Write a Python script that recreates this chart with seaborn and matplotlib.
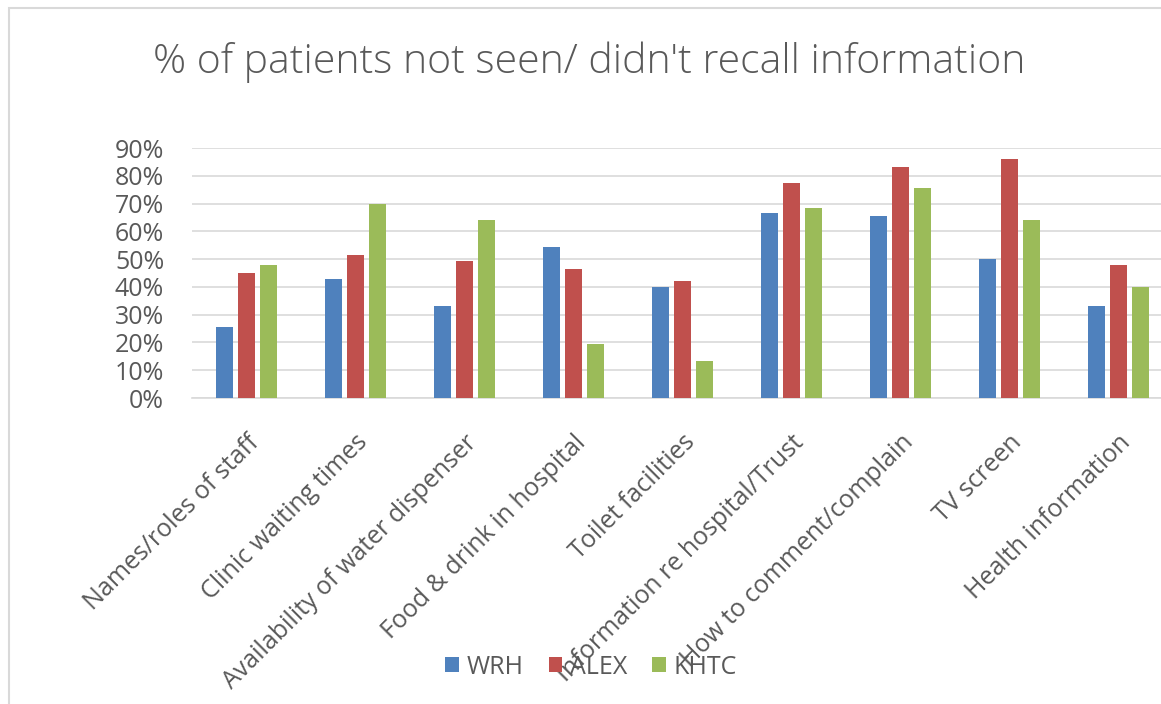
#!/usr/bin/env python
import matplotlib
matplotlib.use('Agg')
import matplotlib.pyplot as plt
from   matplotlib.patches import Rectangle
from   matplotlib.ticker import PercentFormatter, MultipleLocator
import pandas as pd
import seaborn as sb


ITEMS = [
	'Names/roles of staff',
	'Clinic waiting times',
	'Availability of water dispenser',
	'Food & drink in hospital',
	'Toilet facilities',
	'Information re hospital/Trust',
	'How to comment/complain',
	'TV screen',
	'Health information',
]
SITES = ['WRH', 'ALEX', 'KHTC']

# share of patients (%)
WRH  = [25.5, 43, 33, 54.5, 40, 66.5, 65.5, 50, 33]
ALEX = [45, 51.5, 49.5, 46.5, 42, 77.5, 83, 86, 48]
KHTC = [48, 70, 64, 19.5, 13.5, 68.5, 75.5, 64, 40]

COLOURS = ['#4F81BD', '#C0504D', '#9BBB59']
GREY    = '#595959'
GRID    = '#D9D9D9'


def main():
	sb.set_theme(style='white')
	plt.rcParams['font.family'] = ['Open Sans', 'DejaVu Sans']

	df = pd.DataFrame({
		'item': ITEMS * 3,
		'site': sum(([s] * len(ITEMS) for s in SITES), []),
		'pct': [v / 100 for v in WRH + ALEX + KHTC],
	})

	W, H = 1161, 704
	fig = plt.figure(figsize=(W / 100, H / 100), dpi=100)
	ax = fig.add_axes([192 / W, 1 - 398 / H, 981 / W, 250 / H])

	sb.barplot(
		data=df, x='item', y='pct', hue='site',
		hue_order=SITES, palette=COLOURS,
		width=0.6, gap=0.2, linewidth=0, saturation=1,
		ax=ax, zorder=3
	)

	ax.set_ylim(0, 0.9)
	ax.yaxis.set_major_locator(MultipleLocator(0.1))
	ax.yaxis.set_major_formatter(PercentFormatter(1.0, decimals=0))
	ax.grid(axis='y', color=GRID, linewidth=1.2, zorder=0)
	ax.set_axisbelow(True)
	for side in ('top', 'right', 'left'):
		ax.spines[side].set_visible(False)
	ax.spines['bottom'].set_color(GRID)
	ax.spines['bottom'].set_linewidth(1.2)
	ax.set_xlabel('')
	ax.set_ylabel('')
	ax.tick_params(axis='y', length=0, pad=20, labelsize=18, labelcolor=GREY)
	ax.tick_params(axis='x', length=0, pad=23, labelsize=18, labelcolor=GREY)
	for lbl in ax.get_xticklabels():
		lbl.set_rotation(45)
		lbl.set_ha('right')
		lbl.set_va('top')
		lbl.set_rotation_mode('anchor')

	handles, labels = ax.get_legend_handles_labels()
	ax.get_legend().remove()
	fig.legend(
		handles, labels,
		loc='center', bbox_to_anchor=(591 / W, 1 - 667 / H),
		ncol=3, frameon=False, fontsize=18, labelcolor=GREY,
		handlelength=0.55, handleheight=0.55, handletextpad=0.3,
		columnspacing=1.0
	)

	fig.text(
		589 / W, 1 - 62 / H,
		"% of patients not seen/ didn't recall information",
		ha='center', va='center', fontsize=29.5, color=GREY, fontweight='light'
	)

	fig.add_artist(Rectangle(
		(9 / W, -0.1), 2, 1 - 8 / H + 0.1,
		transform=fig.transFigure, fill=False,
		edgecolor=GRID, linewidth=1.5
	))

	fig.savefig('out.png', dpi=100)


if __name__ == '__main__':
	main()
